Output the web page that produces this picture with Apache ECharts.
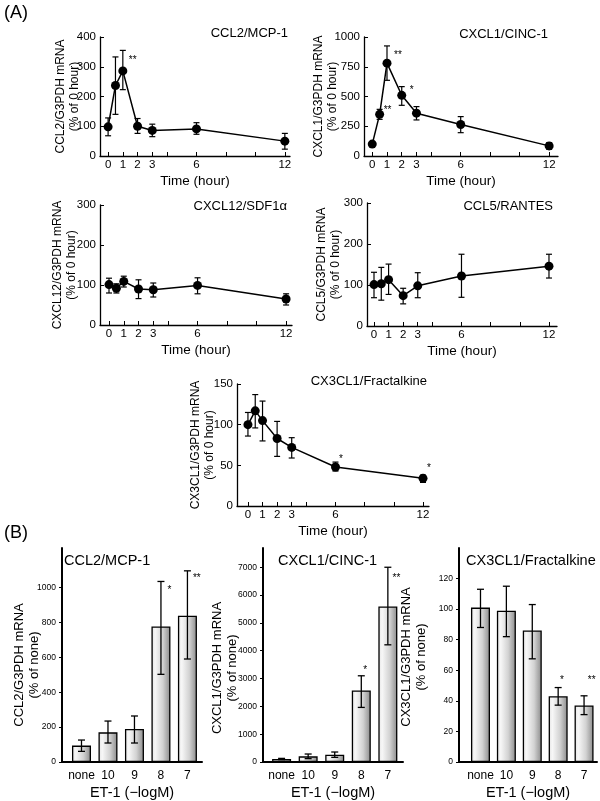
<!DOCTYPE html>
<html><head><meta charset="utf-8">
<script src="https://cdn.jsdelivr.net/npm/echarts@6/dist/echarts.min.js"></script>
<style>html,body{margin:0;padding:0;background:#fff}#c{width:600px;height:801px}</style>
</head><body><div id="c"></div>
<script>
// ---------- data (A: time course) ----------
const hours = [0, 0.5, 1, 2, 3, 6, 12];
const timeLabels = [0, 1, 2, 3, 6, 12];
const timeTicks = [0, 1, 2, 3, 4, 6, 8, 10, 12];

const ccl2Mean = [98, 237, 286, 100, 86, 91, 50];
const ccl2Hi   = [128, 333, 355, 126, 107, 112, 76];
const ccl2Lo   = [68, 140, 223, 76, 65, 73, 23];
const ccl2Stars = ['', '', '**', '', '', '', ''];
const ccl2Ticks = [0, 100, 200, 300, 400];

const cxcl1Mean = [100, 350, 780, 510, 360, 265, 85];
const cxcl1Hi   = [115, 392, 925, 583, 415, 331, 112];
const cxcl1Lo   = [85, 308, 636, 426, 303, 196, 56];
const cxcl1Stars = ['', '**', '**', '*', '', '', ''];
const cxcl1Ticks = [0, 250, 500, 750, 1000];

const cxcl12Mean = [101, 92, 109, 90, 88, 99, 65];
const cxcl12Hi   = [117, 103, 122, 113, 105, 118, 78];
const cxcl12Lo   = [80, 80, 95, 66, 70, 78, 50];
const cxcl12Stars = ['', '', '', '', '', '', ''];
const cxcl12Ticks = [0, 100, 200, 300];

const ccl5Mean = [101, 103, 113, 74, 98, 122, 146];
const ccl5Hi   = [131, 143, 151, 92, 130, 175, 175];
const ccl5Lo   = [69, 63, 77, 54, 69, 70, 117];
const ccl5Stars = ['', '', '', '', '', '', ''];
const ccl5Ticks = [0, 100, 200, 300];

const cx3cl1Mean = [100, 117, 105, 83, 72, 48, 34];
const cx3cl1Hi   = [115, 137, 129, 104, 84, 54, 38];
const cx3cl1Lo   = [86, 96, 80, 61, 59, 43, 29];
const cx3cl1Stars = ['', '', '', '', '', '*', '*'];
const cx3cl1Ticks = [0, 50, 100, 150];

// ---------- data (B: ET-1 dose) ----------
const doses = ['none', '10', '9', '8', '7'];

const bCcl2Mean = [94, 170, 189, 778, 839];
const bCcl2Hi   = [126, 235, 264, 1036, 1097];
const bCcl2Lo   = [61, 109, 109, 503, 591];
const bCcl2Stars = ['', '', '', '*', '**'];
const bCcl2Ticks = [0, 200, 400, 600, 800, 1000];

const bCxcl1Mean = [108, 203, 263, 2573, 5588];
const bCxcl1Hi   = [130, 287, 359, 3099, 7000];
const bCxcl1Lo   = [86, 120, 167, 1962, 4212];
const bCxcl1Stars = ['', '', '', '*', '**'];
const bCxcl1Ticks = [0, 1000, 2000, 3000, 4000, 5000, 6000, 7000];

const bCx3cl1Mean = [101, 99, 86, 43, 37];
const bCx3cl1Hi   = [113, 115, 103, 48.7, 43.3];
const bCx3cl1Lo   = [88, 82, 67.5, 37.2, 31];
const bCx3cl1Stars = ['', '', '', '*', '**'];
const bCx3cl1Ticks = [0, 20, 40, 60, 80, 100, 120];

// ---------- styling / layout ----------
const FONT = '"Liberation Sans", Arial, Helvetica, sans-serif';
function txt(size, extra) { return Object.assign({fontFamily: FONT, fontSize: size, color: '#000'}, extra || {}); }
const plain = v => String(v);

const option = {animation: false, backgroundColor: '#fff', title: [], grid: [], xAxis: [], yAxis: [], series: []};

function errRender(capHalf, lw) {
  return function (params, api) {
    const x = api.value(0);
    const a = api.coord([x, api.value(1)]);
    const b = api.coord([x, api.value(2)]);
    const st = {stroke: '#000', lineWidth: lw};
    return {type: 'group', children: [
      {type: 'line', shape: {x1: a[0], y1: a[1], x2: b[0], y2: b[1]}, style: st},
      {type: 'line', shape: {x1: a[0] - capHalf, y1: a[1], x2: a[0] + capHalf, y2: a[1]}, style: st},
      {type: 'line', shape: {x1: b[0] - capHalf, y1: b[1], x2: b[0] + capHalf, y2: b[1]}, style: st}
    ]};
  };
}
function starRender(stars, off) {
  return function (params, api) {
    const s = stars[params.dataIndex];
    if (!s) return null;
    const pt = api.coord([api.value(0), api.value(1)]);
    const o = off[params.dataIndex] || [5, -8];
    return {type: 'text', x: pt[0] + o[0], y: pt[1] + o[1],
      style: {text: s, fill: '#000', fontSize: 10, fontFamily: FONT, align: 'left', verticalAlign: 'middle'}};
  };
}
function addTitle(text, pos, size) {
  option.title.push(Object.assign({text: text, padding: 0, itemGap: 0,
    textStyle: txt(size, {fontWeight: 'normal', lineHeight: size})}, pos));
}

function addTimePanel(p) {
  const i = option.grid.length;
  option.grid.push(p.grid);
  option.xAxis.push({gridIndex: i, type: 'value', min: p.xMin, max: p.xMax, splitLine: {show: false},
    axisLine: {show: true, onZero: false, lineStyle: {color: '#000', width: 1.3}},
    axisTick: {show: true, inside: true, length: 4, customValues: timeTicks, lineStyle: {color: '#000', width: 1}},
    axisLabel: Object.assign({customValues: timeLabels, margin: 3, formatter: plain}, txt(11.5)),
    name: 'Time (hour)', nameLocation: 'middle', nameGap: 18, nameMoveOverlap: false, nameTextStyle: txt(13.5)});
  option.yAxis.push({gridIndex: i, type: 'value', min: 0, max: p.ticks[p.ticks.length - 1], splitLine: {show: false},
    axisLine: {show: true, onZero: false, lineStyle: {color: '#000', width: 1.3}},
    axisTick: {show: true, inside: true, length: 4, customValues: p.ticks, lineStyle: {color: '#000', width: 1}},
    axisLabel: Object.assign({customValues: p.ticks, margin: 4, formatter: plain}, txt(11.5)),
    name: p.yName, nameLocation: 'middle', nameGap: p.nameGap, nameMoveOverlap: false,
    nameTextStyle: txt(12, {lineHeight: 14})});
  option.series.push({type: 'custom', xAxisIndex: i, yAxisIndex: i, renderItem: errRender(3, 1.2),
    data: hours.map((h, j) => [h, p.lo[j], p.hi[j]]), encode: {x: 0, y: [1, 2]}, z: 2, silent: true});
  option.series.push({type: 'line', xAxisIndex: i, yAxisIndex: i, data: hours.map((h, j) => [h, p.mean[j]]),
    symbol: 'circle', symbolSize: 9, lineStyle: {color: '#000', width: 1.5}, itemStyle: {color: '#000'}, z: 3, silent: true});
  option.series.push({type: 'custom', xAxisIndex: i, yAxisIndex: i, renderItem: starRender(p.stars, p.starOff),
    data: hours.map((h, j) => [h, p.mean[j]]), encode: {x: 0, y: 1}, z: 4, silent: true});
  addTitle(p.title, p.titlePos, 13);
}

const barFill = {type: 'linear', x: 0, y: 0, x2: 1, y2: 0, colorStops: [
  {offset: 0, color: '#e4e4e4'}, {offset: 0.2, color: '#f7f7f7'}, {offset: 0.6, color: '#d2d2d2'}, {offset: 1, color: '#8a8a8a'}]};

function addDosePanel(p) {
  const i = option.grid.length;
  option.grid.push(p.grid);
  option.xAxis.push({gridIndex: i, type: 'value', min: p.xMin, max: p.xMax, splitLine: {show: false},
    axisLine: {show: true, onZero: false, lineStyle: {color: '#000', width: 2}},
    axisTick: {show: false},
    axisLabel: Object.assign({customValues: [0, 1, 2, 3, 4], margin: 8, formatter: v => doses[Math.round(v)]}, txt(12)),
    name: 'ET-1 (\u2212logM)', nameLocation: 'middle', nameGap: 23, nameMoveOverlap: false, nameTextStyle: txt(14.5)});
  option.yAxis.push({gridIndex: i, type: 'value', min: 0, max: p.yMax, splitLine: {show: false},
    axisLine: {show: true, onZero: false, lineStyle: {color: '#000', width: 2}},
    axisTick: {show: true, inside: false, length: 3, customValues: p.ticks, lineStyle: {color: '#000', width: 1}},
    axisLabel: Object.assign({customValues: p.ticks, margin: 6, formatter: plain}, txt(8.5)),
    name: p.yName, nameLocation: 'middle', nameGap: p.nameGap, nameMoveOverlap: false,
    nameTextStyle: txt(13, {lineHeight: 15, padding: [0, p.namePad, 0, 0]})});
  option.series.push({type: 'bar', xAxisIndex: i, yAxisIndex: i, data: doses.map((d, j) => [j, p.mean[j]]),
    barWidth: 19, itemStyle: {color: barFill, borderColor: '#000', borderWidth: 1.3}, z: 2, silent: true});
  option.series.push({type: 'custom', xAxisIndex: i, yAxisIndex: i, renderItem: errRender(3.5, 1.3),
    data: doses.map((d, j) => [j, p.lo[j], p.hi[j]]), encode: {x: 0, y: [1, 2]}, z: 3, silent: true});
  option.series.push({type: 'custom', xAxisIndex: i, yAxisIndex: i, renderItem: starRender(p.stars, p.starOff),
    data: doses.map((d, j) => [j, p.hi[j]]), encode: {x: 0, y: 1}, z: 4, silent: true});
  addTitle(p.title, p.titlePos, 14.5);
}

addTimePanel({mean: ccl2Mean, hi: ccl2Hi, lo: ccl2Lo, stars: ccl2Stars, ticks: ccl2Ticks,
  title: 'CCL2/MCP-1', titlePos: {right: 312, top: 27}, yName: 'CCL2/G3PDH mRNA\n(% of 0 hour)', nameGap: 18,
  grid: {left: 100, top: 37, width: 190, height: 119}, xMin: -0.55, xMax: 12.35, starOff: {2: [6, -11]}});
addTimePanel({mean: cxcl1Mean, hi: cxcl1Hi, lo: cxcl1Lo, stars: cxcl1Stars, ticks: cxcl1Ticks,
  title: 'CXCL1/CINC-1', titlePos: {right: 52, top: 28}, yName: 'CXCL1/G3PDH mRNA\n(% of 0 hour)', nameGap: 24,
  grid: {left: 364, top: 37, width: 194, height: 119}, xMin: -0.56, xMax: 12.6, starOff: {1: [4, -4.5], 2: [7, -7.5], 3: [8, -5]}});
addTimePanel({mean: cxcl12Mean, hi: cxcl12Hi, lo: cxcl12Lo, stars: cxcl12Stars, ticks: cxcl12Ticks,
  title: 'CXCL12/SDF1\u03b1', titlePos: {right: 313, top: 200}, yName: 'CXCL12/G3PDH mRNA\n(% of 0 hour)', nameGap: 21,
  grid: {left: 100, top: 205, width: 192, height: 120}, xMin: -0.61, xMax: 12.4, starOff: {}});
addTimePanel({mean: ccl5Mean, hi: ccl5Hi, lo: ccl5Lo, stars: ccl5Stars, ticks: ccl5Ticks,
  title: 'CCL5/RANTES', titlePos: {right: 47, top: 200}, yName: 'CCL5/G3PDH mRNA\n(% of 0 hour)', nameGap: 24,
  grid: {left: 367, top: 203, width: 190, height: 123}, xMin: -0.48, xMax: 12.55, starOff: {}});
addTimePanel({mean: cx3cl1Mean, hi: cx3cl1Hi, lo: cx3cl1Lo, stars: cx3cl1Stars, ticks: cx3cl1Ticks,
  title: 'CX3CL1/Fractalkine', titlePos: {right: 173, top: 375}, yName: 'CX3CL1/G3PDH mRNA\n(% of 0 hour)', nameGap: 20,
  grid: {left: 237, top: 384, width: 192, height: 122}, xMin: -0.75, xMax: 12.41, starOff: {5: [3.5, -7.5], 6: [4, -10]}});

addDosePanel({mean: bCcl2Mean, hi: bCcl2Hi, lo: bCcl2Lo, stars: bCcl2Stars, ticks: bCcl2Ticks, yMax: 1228,
  title: 'CCL2/MCP-1', titlePos: {left: 64, top: 554}, yName: 'CCL2/G3PDH mRNA\n(% of none)', nameGap: 20, namePad: 20,
  grid: {left: 62, top: 548, width: 140, height: 214}, xMin: -0.736, xMax: 4.55, starOff: {3: [6.5, 9], 4: [5.5, 7.7]}});
addDosePanel({mean: bCxcl1Mean, hi: bCxcl1Hi, lo: bCxcl1Lo, stars: bCxcl1Stars, ticks: bCxcl1Ticks, yMax: 7692,
  title: 'CXCL1/CINC-1', titlePos: {left: 278, top: 554}, yName: 'CXCL1/G3PDH mRNA\n(% of none)', nameGap: 23.5, namePad: 26,
  grid: {left: 263, top: 548, width: 140, height: 214}, xMin: -0.7, xMax: 4.57, starOff: {3: [2, -5.5], 4: [4.7, 11]}});
addDosePanel({mean: bCx3cl1Mean, hi: bCx3cl1Hi, lo: bCx3cl1Lo, stars: bCx3cl1Stars, ticks: bCx3cl1Ticks, yMax: 140,
  title: 'CX3CL1/Fractalkine', titlePos: {left: 466, top: 554}, yName: 'CX3CL1/G3PDH mRNA\n(% of none)', nameGap: 30.5, namePad: 4,
  grid: {left: 459, top: 548, width: 138, height: 214}, xMin: -0.83, xMax: 4.5, starOff: {3: [1.8, -7.2], 4: [3.7, -15.5]}});

addTitle('(A)', {left: 4, top: 4}, 18);
addTitle('(B)', {left: 4, top: 524}, 18);

const chart = echarts.init(document.getElementById('c'), null, {renderer: 'canvas'});
chart.setOption(option);
</script>
</body></html>
